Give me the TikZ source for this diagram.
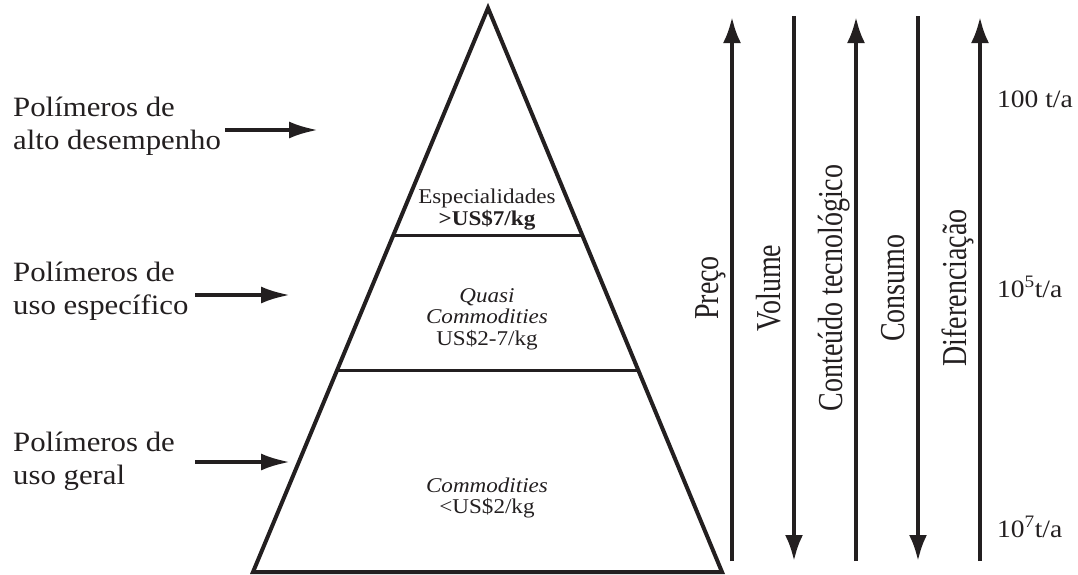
\documentclass[tikz,border=0pt]{standalone}
\usepackage{fontspec}
\setmainfont{Liberation Serif}[FakeStretch=1.1]
\newfontfamily\estreita{Liberation Serif}[FakeStretch=0.8]
\usetikzlibrary{arrows.meta,calc}
\definecolor{tinta}{HTML}{231F20}

\begin{document}
\begin{tikzpicture}[x=1pt,y=-1pt,color=tinta,
  seta/.style={line width=3.8pt,-{Latex[length=26pt,width=18pt]}},
  setinha/.style={line width=3.8pt,-{Latex[length=29pt,width=17pt]}},
  rotulo/.style={inner sep=0pt,anchor=west,align=left,font=\fontsize{28}{33}\selectfont},
  camada/.style={inner sep=0pt,align=center,font=\fontsize{21}{21.5}\selectfont},
  eixo/.style={inner sep=0pt,rotate=90,anchor=base,font=\fontsize{35}{35}\estreita},
  escala/.style={inner sep=0pt,anchor=base west,font=\fontsize{25}{25}\selectfont}]
  \useasboundingbox (0,0) rectangle (1078,574);
  \coordinate (topo) at (488,8);
  \coordinate (baseE) at (253,572);
  \coordinate (baseD) at (722,572);
  \draw[line width=4pt,line join=miter] (topo) -- (baseD) -- (baseE) -- cycle;
  \draw[line width=3pt] ($(topo)!0.404!(baseE)$) -- ($(topo)!0.404!(baseD)$);
  \draw[line width=3pt] ($(topo)!0.642!(baseE)$) -- ($(topo)!0.642!(baseD)$);
  \node[camada] (especialidades) at (487,209.5) {Especialidades\\\textbf{>US\$7/kg}};
  \node[camada] (quasi) at (487,319) {\textit{Quasi}\\\textit{Commodities}\\US\$2-7/kg};
  \node[camada] (commodities) at (487,498) {\textit{Commodities}\\<US\$2/kg};
  \node[rotulo] (alto) at (13,126) {Polímeros de\\alto desempenho};
  \node[rotulo] (especifico) at (13,291) {Polímeros de\\uso específico};
  \node[rotulo] (geral) at (13,461) {Polímeros de\\uso geral};
  \coordinate (alvo1) at (318,130);
  \coordinate (de2) at (195,295);
  \coordinate (alvo2) at (290,295);
  \coordinate (de3) at (195,462);
  \coordinate (alvo3) at (290,462);
  \draw[setinha] (alto.east |- alvo1) ++(4,0) -- (alvo1);
  \draw[setinha] (de2) -- (alvo2);
  \draw[setinha] (de3) -- (alvo3);
  \coordinate (precoB) at (732,561);
  \coordinate (precoT) at (732,17);
  \coordinate (volumeT) at (794,16);
  \coordinate (volumeB) at (794,561);
  \coordinate (conteudoB) at (856,561);
  \coordinate (conteudoT) at (856,17);
  \coordinate (consumoT) at (918,16);
  \coordinate (consumoB) at (918,561);
  \coordinate (diferenciacaoB) at (980,561);
  \coordinate (diferenciacaoT) at (980,17);
  \draw[seta] (precoB) -- (precoT);
  \draw[seta] (volumeT) -- (volumeB);
  \draw[seta] (conteudoB) -- (conteudoT);
  \draw[seta] (consumoT) -- (consumoB);
  \draw[seta] (diferenciacaoB) -- (diferenciacaoT);
  \node[eixo] (preco) at (718,288) {Preço};
  \node[eixo] (volume) at (780,288) {Volume};
  \node[eixo] (conteudo) at (842,288) {Conteúdo tecnológico};
  \node[eixo] (consumo) at (904,288) {Consumo};
  \node[eixo] (diferenciacao) at (966,288) {Diferenciação};
  \node[escala] (t100) at (997,107) {100 t/a};
  \node[escala] (t105) at (997,297) {10\textsuperscript{5}t/a};
  \node[escala] (t107) at (997,537) {10\textsuperscript{7}t/a};
\end{tikzpicture}
\end{document}
